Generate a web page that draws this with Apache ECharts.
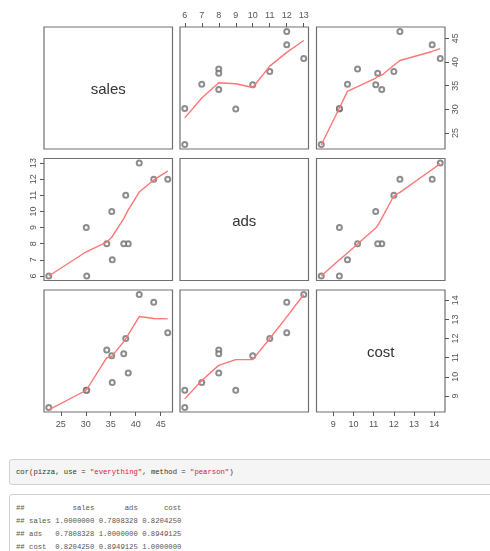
<!DOCTYPE html>
<html>
<head>
<meta charset="utf-8">
<script src="https://cdn.jsdelivr.net/npm/echarts@6/dist/echarts.min.js"></script>
<style>
  html, body { margin: 0; padding: 0; background: #fff; }
  #wrap { position: relative; width: 490px; height: 551px; overflow: hidden; background: #fff; }
  #chart { position: absolute; left: 0; top: 0; width: 490px; height: 450px; }
  .code { position: absolute; left: 9px; width: 500px; box-sizing: border-box; border: 1px solid #cfcfcf; border-radius: 3px;
          font-family: 'Liberation Mono', 'DejaVu Sans Mono', monospace; font-size: 7.25px; white-space: pre; }
  #src { top: 459px; height: 26px; background: #f5f5f5; color: #333; padding: 0 0 0 6px; line-height: 25px; }
  #out { top: 494px; height: 70px; background: #fff; color: #555; padding: 7px 0 0 6px; line-height: 13px; }
  .str { color: #d14; }
</style>
</head>
<body>
<div id="wrap">
  <div id="chart"></div>
  <div class="code" id="src">cor(pizza, use = <span class="str">"everything"</span>, method = <span class="str">"pearson"</span>)</div>
  <div class="code" id="out">##           sales       ads      cost
## sales 1.0000000 0.7808328 0.8204250
## ads   0.7808328 1.0000000 0.8949125
## cost  0.8204250 0.8949125 1.0000000</div>
</div>
<script>
// ---- data ----
const varNames = ['sales', 'ads', 'cost'];
const sales = [43.6, 38.0, 30.1, 35.3, 46.4, 34.2, 30.2, 40.7, 38.5, 22.6, 37.6, 35.2];
const ads   = [12, 11, 9, 7, 12, 8, 6, 13, 8, 6, 8, 10];
const cost  = [13.9, 12.0, 9.3, 9.7, 12.3, 11.4, 9.3, 14.3, 10.2, 8.4, 11.2, 11.1];

const salesTicks = [25, 30, 35, 40, 45];
const adsTicks   = [6, 7, 8, 9, 10, 11, 12, 13];
const costTicks  = [9, 10, 11, 12, 13, 14];

// smoother (lowess) curves
const salesLevels = [22.6, 30.1, 30.2, 34.2, 35.2, 35.3, 37.6, 38.0, 38.5, 40.7, 43.6, 46.4];
const adsLevels   = [6, 7, 8, 9, 10, 11, 12, 13];
const costLevels  = [8.4, 9.3, 9.7, 10.2, 11.1, 11.2, 11.4, 12.0, 12.3, 13.9, 14.3];
const smoothSalesOnAds  = [28.2, 32.4, 35.6, 35.4, 34.6, 39.1, 42.0, 44.5];
const smoothSalesOnCost = [22.5, 30.3, 33.8, 34.8, 36.6, 36.9, 37.2, 39.3, 40.3, 42.2, 42.8];
const smoothAdsOnSales  = [6.0, 7.5, 7.52, 8.1, 8.4, 8.45, 9.55, 9.8, 10.1, 11.2, 11.95, 12.5];
const smoothAdsOnCost   = [6.0, 7.0, 7.42, 7.98, 8.97, 9.12, 9.57, 10.97, 11.18, 12.6, 12.96];
const smoothCostOnSales = [8.28, 9.3, 9.32, 11.0, 11.07, 11.1, 11.84, 12.0, 12.2, 13.15, 13.05, 13.03];
const smoothCostOnAds   = [8.85, 9.81, 10.6, 10.9, 10.9, 12.0, 13.13, 14.3];

// ---- layout ----
const colLeft = [44, 180, 316.5];
const rowTop = [27, 158.5, 290];
const PW = 128.5, PH = 122;

const vals = [sales, ads, cost];
const ticks = [salesTicks, adsTicks, costTicks];
const levels = [salesLevels, adsLevels, costLevels];
const smooth = {
  '0-1': smoothSalesOnAds, '0-2': smoothSalesOnCost,
  '1-0': smoothAdsOnSales, '1-2': smoothAdsOnCost,
  '2-0': smoothCostOnSales, '2-1': smoothCostOnAds
};
function range(v) {
  const lo = Math.min(...v), hi = Math.max(...v), d = (hi - lo) * 0.04;
  return [lo - d, hi + d];
}
const ranges = vals.map(range);

const FONT = "'Liberation Sans Narrow', 'Liberation Sans', Arial, sans-serif";
const grids = [], xAxes = [], yAxes = [], series = [], graphics = [];

for (let i = 0; i < 3; i++) {
  for (let j = 0; j < 3; j++) {
    const k = i * 3 + j;
    grids.push({ left: colLeft[j], top: rowTop[i], width: PW, height: PH, show: true,
                 borderColor: '#707070', borderWidth: 1.2, backgroundColor: 'transparent' });
    let xPos = null;
    if (i === 0 && j === 1) xPos = 'top';
    if (i === 2 && (j === 0 || j === 2)) xPos = 'bottom';
    let yPos = null;
    if (j === 0 && i === 1) yPos = 'left';
    if (j === 2 && (i === 0 || i === 2)) yPos = 'right';

    xAxes.push({
      gridIndex: k, type: 'value', min: ranges[j][0], max: ranges[j][1],
      position: xPos || 'bottom',
      axisLine: { show: false }, splitLine: { show: false },
      axisTick: { show: !!xPos, length: 4, customValues: ticks[j], lineStyle: { color: '#555', width: 1 } },
      axisLabel: { show: !!xPos, customValues: ticks[j], margin: xPos === 'top' ? 7 : 8,
                   fontSize: 9, fontFamily: FONT, color: '#555' }
    });
    yAxes.push({
      gridIndex: k, type: 'value', min: ranges[i][0], max: ranges[i][1],
      position: yPos || 'left',
      axisLine: { show: false }, splitLine: { show: false },
      axisTick: { show: !!yPos, length: 4, customValues: ticks[i], lineStyle: { color: '#555', width: 1 } },
      axisLabel: { show: !!yPos, customValues: ticks[i], rotate: 90, margin: 6,
                   fontSize: 9, fontFamily: FONT, color: '#555' }
    });

    if (i === j) {
      graphics.push({ type: 'text', x: colLeft[j] + PW / 2, y: rowTop[i] + PH / 2 + 2,
        style: { text: varNames[i], fontSize: 15, fontFamily: FONT, fill: '#333',
                 align: 'center', verticalAlign: 'middle' } });
      continue;
    }
    const pts = vals[j].map((x, n) => [x, vals[i][n]]);
    series.push({ type: 'scatter', xAxisIndex: k, yAxisIndex: k, data: pts,
      symbol: 'emptyCircle', symbolSize: 5,
      itemStyle: { color: '#707070', borderColor: '#707070', borderWidth: 0.9 }, silent: true });
    const sm = smooth[i + '-' + j];
    series.push({ type: 'line', xAxisIndex: k, yAxisIndex: k,
      data: levels[j].map((x, n) => [x, sm[n]]),
      showSymbol: false, symbol: 'none', smooth: false,
      lineStyle: { color: '#ff7676', width: 1.4 }, silent: true, z: 3 });
  }
}

const chart = echarts.init(document.getElementById('chart'), null, { renderer: 'canvas' });
chart.setOption({
  animation: false,
  backgroundColor: '#fff',
  grid: grids, xAxis: xAxes, yAxis: yAxes, series: series,
  graphic: graphics
});
</script>
</body>
</html>
